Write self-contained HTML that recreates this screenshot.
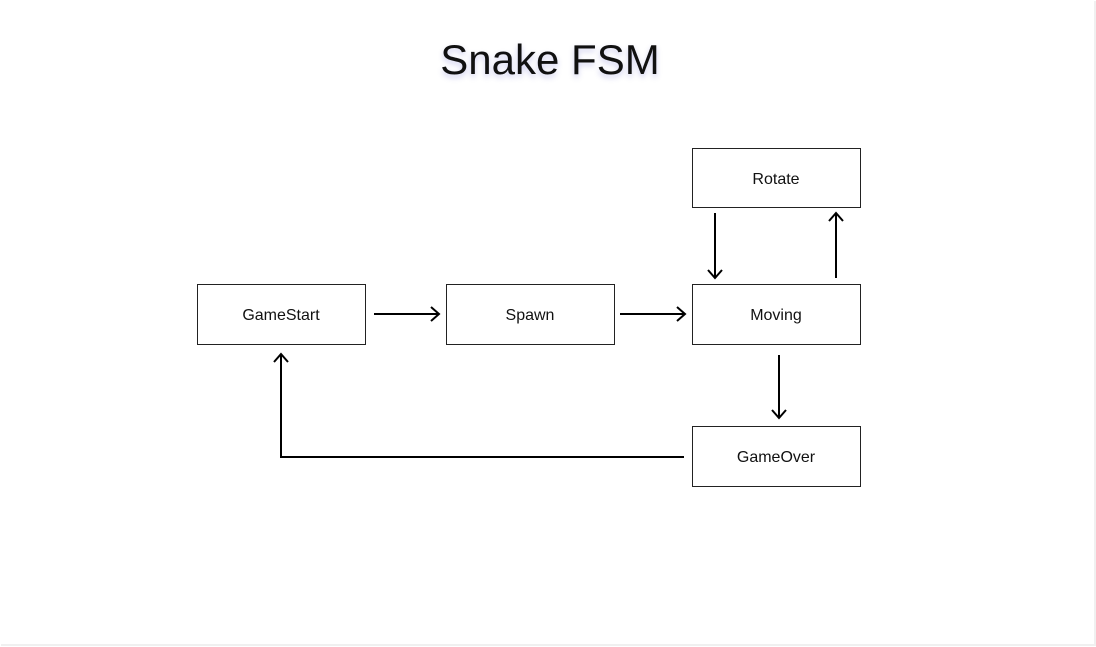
<!DOCTYPE html>
<html><head><style>
html,body{margin:0;padding:0;background:#fff;}
body{width:1096px;height:647px;overflow:hidden;position:relative;font-family:"Liberation Sans",sans-serif;}
.frame{position:absolute;left:1px;top:1px;width:1093px;height:643px;border-right:2px solid #f0f0f0;border-bottom:2px solid #f0f0f0;}
.title{position:absolute;left:0;width:1100px;top:36px;text-align:center;font-size:42px;color:#111;text-shadow:0 3px 6px rgba(90,90,200,0.3);}
</style></head><body>
<div class="frame"></div>
<div class="title">Snake FSM</div>
<svg width="1096" height="647" style="position:absolute;left:0;top:0" font-family="Liberation Sans, sans-serif" font-size="16" fill="#111">
<g fill="#fff" stroke="#222" stroke-width="1">
<rect x="197.5" y="284.5" width="168" height="60"/>
<rect x="446.5" y="284.5" width="168" height="60"/>
<rect x="692.5" y="284.5" width="168" height="60"/>
<rect x="692.5" y="148.5" width="168" height="59"/>
<rect x="692.5" y="426.5" width="168" height="60"/>
</g>
<g text-anchor="middle" fill="#111">
<text x="281" y="320">GameStart</text>
<text x="530" y="320">Spawn</text>
<text x="776" y="320">Moving</text>
<text x="776" y="184">Rotate</text>
<text x="776" y="462">GameOver</text>
</g>
<g stroke="#000" stroke-width="2" fill="none">
<path d="M374 314H439M431 307L439 314L431 321"/>
<path d="M620 314H685M677 307L685 314L677 321"/>
<path d="M715 213V278M708 270L715 278L722 270"/>
<path d="M836 278V213M829 221L836 213L843 221"/>
<path d="M779 355V418M772 410L779 418L786 410"/>
<path d="M684 457H281V354M274 362L281 354L288 362"/>
</g>
</svg>
</body></html>
